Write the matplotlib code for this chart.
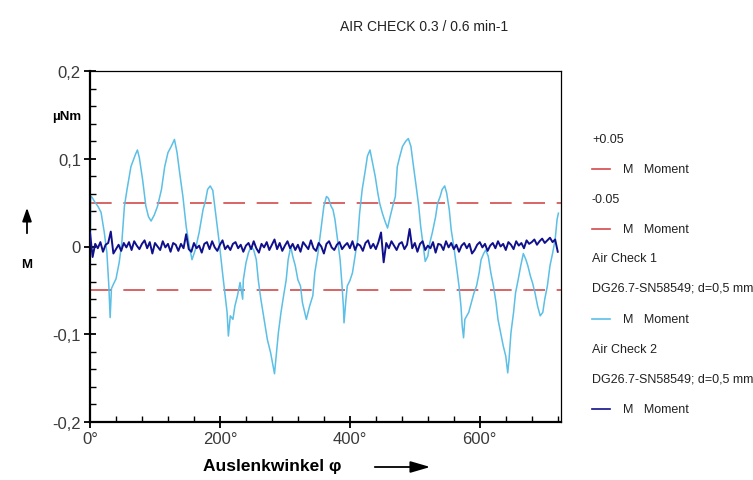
import numpy as np
import matplotlib
matplotlib.use("Agg")
import matplotlib.pyplot as plt
from matplotlib.lines import Line2D
from matplotlib.patches import FancyArrowPatch
from matplotlib.ticker import FuncFormatter, MultipleLocator

plt.rcParams["font.family"] = ["Liberation Sans", "DejaVu Sans"]

# Air Check 1 (light blue): angle in degrees, moment in uNm
check1_angle = [0, 1, 4, 8, 12, 17, 22, 26, 29, 31, 33, 36, 40, 45, 49, 53, 57, 63, 70, 73,
                76, 81, 86, 90, 94, 99, 104, 110, 115, 120, 125, 130, 134, 138, 143, 148, 153, 157, 162, 168,
                174, 178, 181, 185, 189, 194, 199, 204, 208, 211, 213, 216, 220, 223, 227, 231, 235, 236, 240, 244,
                248, 252, 256, 259, 263, 268, 273, 278, 281, 284, 286, 290, 294, 298, 302, 305, 309, 312, 316, 320,
                324, 327, 333, 338, 343, 346, 351, 356, 360, 364, 367, 371, 374, 377, 381, 385, 388, 390, 391, 394,
                396, 400, 404, 408, 412, 415, 419, 424, 427, 431, 435, 439, 443, 446, 450, 454, 458, 462, 466, 470,
                473, 477, 481, 486, 490, 494, 498, 502, 506, 509, 513, 516, 520, 523, 527, 532, 535, 539, 542, 544,
                546, 549, 553, 556, 560, 564, 568, 571, 573, 575, 577, 580, 583, 587, 591, 595, 599, 602, 606, 609,
                613, 617, 621, 625, 628, 632, 636, 640, 643, 645, 648, 652, 655, 659, 663, 667, 671, 674, 678, 681,
                685, 689, 693, 697, 700, 704, 708, 712, 716, 719, 721]
check1_moment = [-0.035, 0.058, 0.055, 0.050, 0.046, 0.039, 0.016, -0.007, -0.045, -0.081, -0.048, -0.043, -0.037, -0.018, 0.005, 0.046, 0.065, 0.091, 0.105, 0.110,
                 0.101, 0.076, 0.046, 0.034, 0.029, 0.036, 0.046, 0.065, 0.091, 0.107, 0.114, 0.122, 0.107, 0.084, 0.057, 0.023, 0.000, -0.015, -0.004, 0.016,
                 0.042, 0.053, 0.065, 0.069, 0.064, 0.034, 0.004, -0.030, -0.056, -0.075, -0.102, -0.079, -0.083, -0.068, -0.056, -0.041, -0.060, -0.038, -0.019, -0.007,
                 0.000, -0.004, -0.015, -0.038, -0.060, -0.083, -0.106, -0.121, -0.133, -0.145, -0.129, -0.098, -0.075, -0.056, -0.038, -0.015, 0.000, -0.011, -0.022, -0.038,
                 -0.045, -0.064, -0.083, -0.068, -0.056, -0.030, -0.007, 0.023, 0.046, 0.057, 0.055, 0.046, 0.042, 0.031, 0.008, -0.015, -0.045, -0.068, -0.087, -0.060,
                 -0.045, -0.039, -0.030, -0.011, 0.008, 0.038, 0.065, 0.088, 0.103, 0.110, 0.095, 0.080, 0.061, 0.049, 0.038, 0.029, 0.021, 0.034, 0.046, 0.057,
                 0.091, 0.103, 0.114, 0.120, 0.123, 0.114, 0.091, 0.069, 0.046, 0.023, 0.000, -0.017, -0.011, 0.004, 0.016, 0.034, 0.049, 0.057, 0.065, 0.067,
                 0.069, 0.061, 0.042, 0.019, 0.000, -0.022, -0.045, -0.068, -0.091, -0.104, -0.083, -0.079, -0.075, -0.064, -0.053, -0.045, -0.030, -0.015, -0.008, -0.004,
                 -0.011, -0.030, -0.045, -0.064, -0.083, -0.098, -0.113, -0.125, -0.144, -0.129, -0.098, -0.075, -0.053, -0.038, -0.022, -0.008, -0.015, -0.022, -0.034, -0.041,
                 -0.053, -0.068, -0.079, -0.075, -0.060, -0.045, -0.022, -0.008, 0.008, 0.031, 0.038]

# Air Check 2 (navy), sampled every 4 degrees, values in thousandths of uNm
check2_step = 4
check2_milli = [16, -12, 3, -2, 5, -6, 2, 4, 17, -8, -3, 2, -5, 4, -1, 5, -4, 6, 1, -3,
                3, 7, -2, 5, -8, 4, 0, -4, 6, -1, 3, -6, 4, 2, -5, 3, -2, 14, -3, -6,
                4, -2, 1, -7, 3, 5, -3, 6, -1, -5, 2, 7, -3, 1, -4, 3, 5, -2, 2, -6,
                1, 4, -3, 6, -2, -7, 3, -1, 5, -4, 2, 8, -3, 4, -5, 1, 6, -2, 3, -4,
                2, -6, 5, 1, -3, 7, -2, -5, 4, 0, -8, 3, 6, -1, -4, 2, 5, -3, 1, 4,
                -2, 6, -4, 3, 1, -5, 4, 7, -2, 3, -3, 5, 16, -18, 4, -2, 6, 1, -4, 3,
                5, -3, 2, 20, -2, 4, -6, 3, 6, -4, 1, -2, 5, -7, 3, 2, -4, 6, -1, 4,
                -3, 2, -6, 1, 4, -2, 3, -8, -4, 2, 5, -1, 3, -5, 1, 4, -2, 6, 0, 3,
                -4, 5, 2, -3, 6, 1, 4, -2, 7, 3, 5, 8, 2, 6, 9, 4, 7, 10, 5, 8, -6]

limit_hi = 0.05
limit_lo = -0.05

RED = "#d24b4b"
LIGHT = "#5bbfe6"
NAVY = "#10108c"

legend_rows = [("+0.05", None), ("M   Moment", RED), ("-0.05", None), ("M   Moment", RED),
               ("Air Check 1", None), ("DG26.7-SN58549; d=0,5 mm", None), ("M   Moment", LIGHT),
               ("Air Check 2", None), ("DG26.7-SN58549; d=0,5 mm", None), ("M   Moment", NAVY)]

W, H = 753, 481
fig = plt.figure(figsize=(W / 100, H / 100), dpi=100)
ax = fig.add_axes([90 / W, 1 - 423 / H, (561 - 90) / W, (423 - 72) / H])

check2_angle = np.arange(len(check2_milli)) * check2_step
check2_moment = np.array(check2_milli) / 1000.0

ax.axhline(limit_hi, color=RED, lw=1.2, dashes=(13, 7), zorder=1)
ax.axhline(limit_lo, color=RED, lw=1.2, dashes=(13, 7), zorder=1)
ax.plot(check1_angle, check1_moment, color=LIGHT, lw=1.1, zorder=2)
ax.plot(check2_angle, check2_moment, color=NAVY, lw=1.4, zorder=3)

ax.set_xlim(0, 725)
ax.set_ylim(-0.2, 0.2)
ax.xaxis.set_major_locator(MultipleLocator(200))
ax.xaxis.set_minor_locator(MultipleLocator(40))
ax.yaxis.set_major_locator(MultipleLocator(0.1))
ax.yaxis.set_minor_locator(MultipleLocator(0.02))
ax.xaxis.set_major_formatter(FuncFormatter(lambda v, p: f"{v:.0f}°"))
ax.yaxis.set_major_formatter(
    FuncFormatter(lambda v, p: "0" if abs(v) < 1e-9 else f"{v:.1f}".replace(".", ",")))
ax.tick_params(which="major", direction="inout", length=9, width=1.3, labelsize=12,
               colors="black", labelcolor="#3a3a3a", pad=2)
ax.tick_params(which="minor", direction="in", length=4, width=1.0)
ax.tick_params(top=False, right=False, which="both")
for s in ["left", "bottom"]:
    ax.spines[s].set_linewidth(1.6)
for s in ["top", "right"]:
    ax.spines[s].set_linewidth(0.9)

fig.text(340 / W, 1 - 27 / H, "AIR CHECK 0.3 / 0.6 min-1", ha="left", va="center",
         fontsize=10, color="#222222")

# y axis label with arrow
fig.text(81 / W, 1 - 117 / H, "µNm", ha="right", va="center", fontsize=9.5, fontweight="bold")
fig.text(27 / W, 1 - 265 / H, "M", ha="center", va="center", fontsize=9.5, fontweight="bold")
fig.add_artist(FancyArrowPatch(
    (27 / W, 1 - 237 / H), (27 / W, 1 - 206 / H), transform=fig.transFigure,
    arrowstyle="-|>,head_length=8,head_width=2.8", color="black", lw=1.3))

# x axis label with arrow
fig.text(272 / W, 1 - 467 / H, "Auslenkwinkel φ", ha="center", va="center", fontsize=12.5,
         fontweight="bold")
fig.add_artist(FancyArrowPatch(
    (372 / W, 1 - 468 / H), (433 / W, 1 - 468 / H), transform=fig.transFigure,
    arrowstyle="-|>,head_length=12,head_width=3.5", color="black", lw=1.3))

# legend on the right
row_y = [140, 170, 200, 230, 259, 289, 320, 350, 380, 410]
for (label, color), y in zip(legend_rows, row_y):
    yf = 1 - y / H
    if color is None:
        fig.text(592 / W, yf, label, ha="left", va="center", fontsize=9, color="#222222")
    else:
        fig.add_artist(Line2D([592 / W, 610 / W], [yf, yf], color=color, lw=1.2,
                              transform=fig.transFigure))
        fig.text(623 / W, yf, label, ha="left", va="center", fontsize=9, color="#222222")

fig.savefig("out.png", dpi=100)
